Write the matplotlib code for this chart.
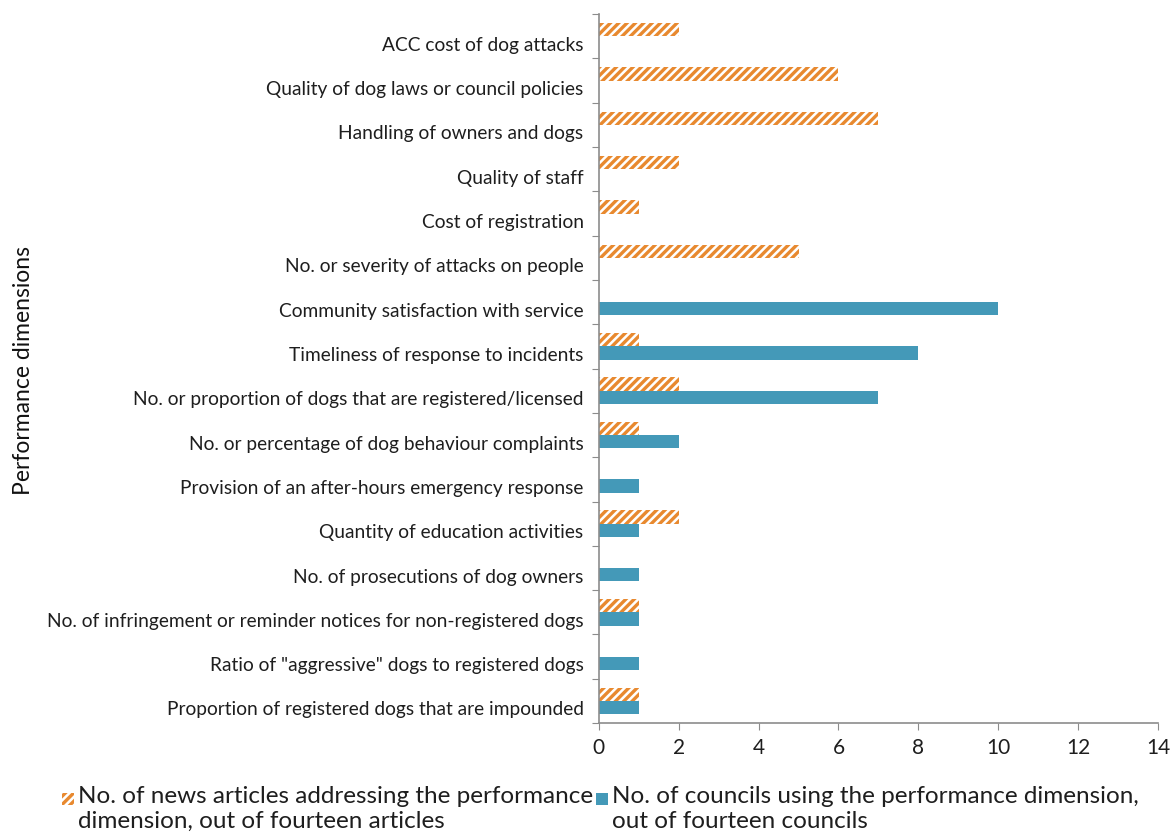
import numpy as np
import matplotlib
matplotlib.use("Agg")
import matplotlib.pyplot as plt
from matplotlib.patches import Rectangle

plt.rcParams['font.family'] = ['Lato', 'DejaVu Sans']
plt.rcParams['hatch.linewidth'] = 2.4

# Performance dimensions, listed top to bottom
dimensions = [
    "ACC cost of dog attacks",
    "Quality of dog laws or council policies",
    "Handling of owners and dogs",
    "Quality of staff",
    "Cost of registration",
    "No. or severity of attacks on people",
    "Community satisfaction with service",
    "Timeliness of response to incidents",
    "No. or proportion of dogs that are registered/licensed",
    "No. or percentage of dog behaviour complaints",
    "Provision of an after-hours emergency response",
    "Quantity of education activities",
    "No. of prosecutions of dog owners",
    "No. of infringement or reminder notices for non-registered dogs",
    "Ratio of \"aggressive\" dogs to registered dogs",
    "Proportion of registered dogs that are impounded",
]
news_articles = [2, 6, 7, 2, 1, 5, 0, 1, 2, 1, 0, 2, 0, 1, 0, 1]
councils = [0, 0, 0, 0, 0, 0, 10, 8, 7, 2, 1, 1, 1, 1, 1, 1]

news_label = "No. of news articles addressing the performance\ndimension, out of fourteen articles"
council_label = "No. of councils using the performance dimension,\nout of fourteen councils"

ORANGE = "#E8892F"
BLUE = "#4499B8"
AXIS_GREY = "#8C8C8C"
TEXT = "#1E1E1E"

W, H = 1172, 834
fig = plt.figure(figsize=(W / 100, H / 100), dpi=100)
ax = fig.add_axes([0.511, 0.133, 0.477, 0.850])

y = np.arange(len(dimensions))
h = 0.3

ax.barh(y - h / 2, news_articles, height=h, facecolor="white",
        edgecolor=ORANGE, hatch="////", linewidth=0)
ax.barh(y + h / 2, councils, height=h, color=BLUE, linewidth=0)

ax.set_ylim(len(dimensions) - 0.5, -0.5)
ax.set_xlim(0, 14)
ax.set_xticks(range(0, 15, 2))

# ticks at category boundaries, labels sit slightly below the category centres
ax.set_yticks(np.arange(-0.5, len(dimensions) + 0.5, 1))
ax.set_yticklabels([])
ax.set_yticks(y + 0.17, minor=True)
ax.set_yticklabels(dimensions, minor=True, fontsize=13.8, color=TEXT)
ax.tick_params(axis="y", which="minor", length=0, pad=11)
ax.tick_params(axis="y", which="major", length=5, color=AXIS_GREY, direction="out")
ax.tick_params(axis="x", length=5, color=AXIS_GREY, labelsize=15,
               labelcolor=TEXT, pad=6)

for s in ("top", "right"):
    ax.spines[s].set_visible(False)
for s in ("left", "bottom"):
    ax.spines[s].set_color(AXIS_GREY)
    ax.spines[s].set_linewidth(1.2)

fig.text(0.020, 0.556, "Performance dimensions", rotation=90,
         ha="center", va="center", fontsize=16.5, color="#111111")

# legend keys and their two-line captions below the plot
keys = [
    (62, dict(facecolor="white", edgecolor=ORANGE, hatch="////", linewidth=0), news_label),
    (596, dict(facecolor=BLUE, linewidth=0), council_label),
]
for x0, style, label in keys:
    fig.patches.append(Rectangle((x0 / W, 1 - 805 / H), 12 / W, 12 / H,
                                 transform=fig.transFigure, **style))
    fig.text((x0 + 16) / W, 1 - 786 / H, label, ha="left", va="top",
             fontsize=17.5, color=TEXT, linespacing=1.22)

fig.savefig("out.png", dpi=100)
